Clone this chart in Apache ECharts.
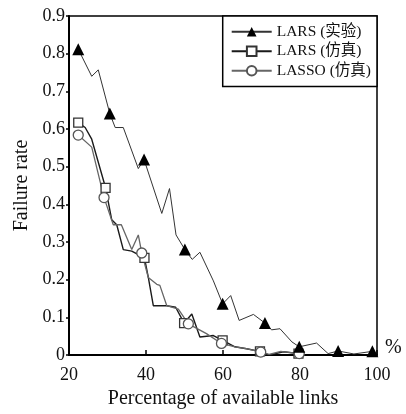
<!DOCTYPE html>
<html>
<head>
<meta charset="utf-8">
<script src="https://cdn.jsdelivr.net/npm/echarts@6/dist/echarts.min.js"></script>
<style>
  html, body { margin: 0; padding: 0; background: #fff; }
  #chart { width: 406px; height: 414px; }
</style>
</head>
<body>
<div id="chart"></div>
<script>
// LARS (实验) - thin line, filled triangles
var larsExpX = [22.4, 25.9, 27.6, 30.6, 32, 34.1, 38, 39.5, 44.1, 46.1, 47.8, 50.1, 52, 54, 57.5, 59.9, 62, 64.2, 67.9, 70.9, 72.6, 74.8, 77.9, 79.8, 84.3, 87.3, 89.9, 94, 98.8];
var larsExpY = [0.812, 0.74, 0.757, 0.641, 0.604, 0.604, 0.495, 0.519, 0.376, 0.442, 0.319, 0.28, 0.254, 0.273, 0.197, 0.136, 0.158, 0.092, 0.108, 0.085, 0.067, 0.07, 0.035, 0.022, 0.032, 0.004, 0.011, 0.003, 0.01];
var larsExpMarks = [22.4, 30.6, 39.5, 50.1, 59.9, 70.9, 79.8, 89.9, 98.8];

// LARS (仿真) - squares
var larsSimX = [22.4, 24.2, 25.9, 29.5, 31.1, 32.4, 34.1, 36.3, 39.6, 40.6, 41.9, 45.4, 47.7, 49.9, 51.9, 54, 57.5, 59.9, 63.1, 66.1, 69.6, 72, 75.7, 79.6];
var larsSimY = [0.617, 0.604, 0.573, 0.444, 0.359, 0.346, 0.28, 0.276, 0.258, 0.206, 0.131, 0.131, 0.127, 0.085, 0.109, 0.048, 0.052, 0.039, 0.022, 0.017, 0.01, 0, 0.009, 0.004];
var larsSimMarks = [22.4, 29.5, 39.6, 49.9, 59.9, 69.6, 79.6];

// LASSO (仿真) - circles
var lassoX = [22.4, 25.9, 29.1, 31.5, 33.6, 36.3, 38, 38.9, 40.6, 42.8, 43.6, 45.4, 48.4, 51, 55.7, 59.6, 63.1, 66.1, 69.8, 72, 75, 79.8];
var lassoY = [0.584, 0.552, 0.418, 0.346, 0.346, 0.28, 0.319, 0.271, 0.206, 0.188, 0.185, 0.131, 0.122, 0.083, 0.057, 0.031, 0.022, 0.017, 0.008, 0.002, 0.01, 0.004];
var lassoMarks = [22.4, 29.1, 38.9, 51, 59.6, 69.8, 79.8];

var names = ["LARS (实验)", "LARS (仿真)", "LASSO (仿真)"];
var xTicks = [20, 40, 60, 80, 100];

var serif = "'Liberation Serif', 'Noto Sans CJK SC', serif";

// 把点拼起来，只在标记点显示符号
function buildData(xs, ys, marks) {
  var out = [];
  for (var i = 0; i < xs.length; i++) {
    out.push({
      value: [xs[i], ys[i]],
      symbol: marks.indexOf(xs[i]) >= 0 ? undefined : "none"
    });
  }
  return out;
}

var chart = echarts.init(document.getElementById("chart"));

var option = {
  animation: false,
  grid: {
    left: 69,
    right: 29,
    top: 16,
    bottom: 56,
    show: true,
    borderColor: "#000",
    borderWidth: 1.5
  },
  legend: {
    orient: "vertical",
    right: 29,
    top: 16,
    padding: [8, 6, 8, 8],
    itemGap: 4,
    itemWidth: 40,
    itemHeight: 12,
    borderColor: "#000",
    borderWidth: 1.5,
    backgroundColor: "#fff",
    textStyle: {
      fontFamily: serif,
      fontSize: 15.5,
      color: "#111"
    },
    data: names
  },
  xAxis: {
    type: "value",
    min: 20,
    max: 100,
    interval: 20,
    name: "Percentage of available links",
    nameLocation: "middle",
    nameGap: 27,
    nameTextStyle: { fontFamily: serif, fontSize: 20, color: "#111" },
    axisLine: { lineStyle: { color: "#000", width: 2 } },
    axisTick: { inside: true, length: 5, lineStyle: { color: "#000", width: 1.5 } },
    axisLabel: {
      fontFamily: serif,
      fontSize: 18,
      color: "#111",
      margin: 11,
      formatter: function (v) { return xTicks.indexOf(v) >= 0 ? String(v) : ""; }
    },
    splitLine: { show: false }
  },
  yAxis: {
    type: "value",
    min: 0,
    max: 0.9,
    interval: 0.1,
    name: "Failure rate",
    nameLocation: "middle",
    nameGap: 33,
    nameTextStyle: { fontFamily: serif, fontSize: 20, color: "#111" },
    axisLine: { lineStyle: { color: "#000", width: 2 } },
    axisTick: { inside: false, length: 3, lineStyle: { color: "#000", width: 1.5 } },
    axisLabel: {
      fontFamily: serif,
      fontSize: 18,
      color: "#111",
      margin: 4,
      formatter: function (v) { return String(Math.round(v * 10) / 10); }
    },
    splitLine: { show: false }
  },
  graphic: [
    {
      type: "text",
      left: 385,
      top: 338,
      style: { text: "%", font: "20px 'Liberation Serif'", fill: "#111" }
    }
  ],
  series: [
    {
      name: names[0],
      type: "line",
      symbol: "triangle",
      symbolSize: 12,
      showAllSymbol: true,
      lineStyle: { color: "#333", width: 1 },
      itemStyle: { color: "#000", borderColor: "#000", borderWidth: 0 },
      data: buildData(larsExpX, larsExpY, larsExpMarks),
      z: 3
    },
    {
      name: names[1],
      type: "line",
      symbol: "rect",
      symbolSize: 9,
      showAllSymbol: true,
      lineStyle: { color: "#1a1a1a", width: 1.4 },
      itemStyle: { color: "#fff", borderColor: "#333", borderWidth: 1.3 },
      data: buildData(larsSimX, larsSimY, larsSimMarks),
      z: 2
    },
    {
      name: names[2],
      type: "line",
      symbol: "circle",
      symbolSize: 10,
      showAllSymbol: true,
      lineStyle: { color: "#666", width: 1.3 },
      itemStyle: { color: "#fff", borderColor: "#555", borderWidth: 1.3 },
      data: buildData(lassoX, lassoY, lassoMarks),
      z: 2
    }
  ]
};

chart.setOption(option);
</script>
</body>
</html>
